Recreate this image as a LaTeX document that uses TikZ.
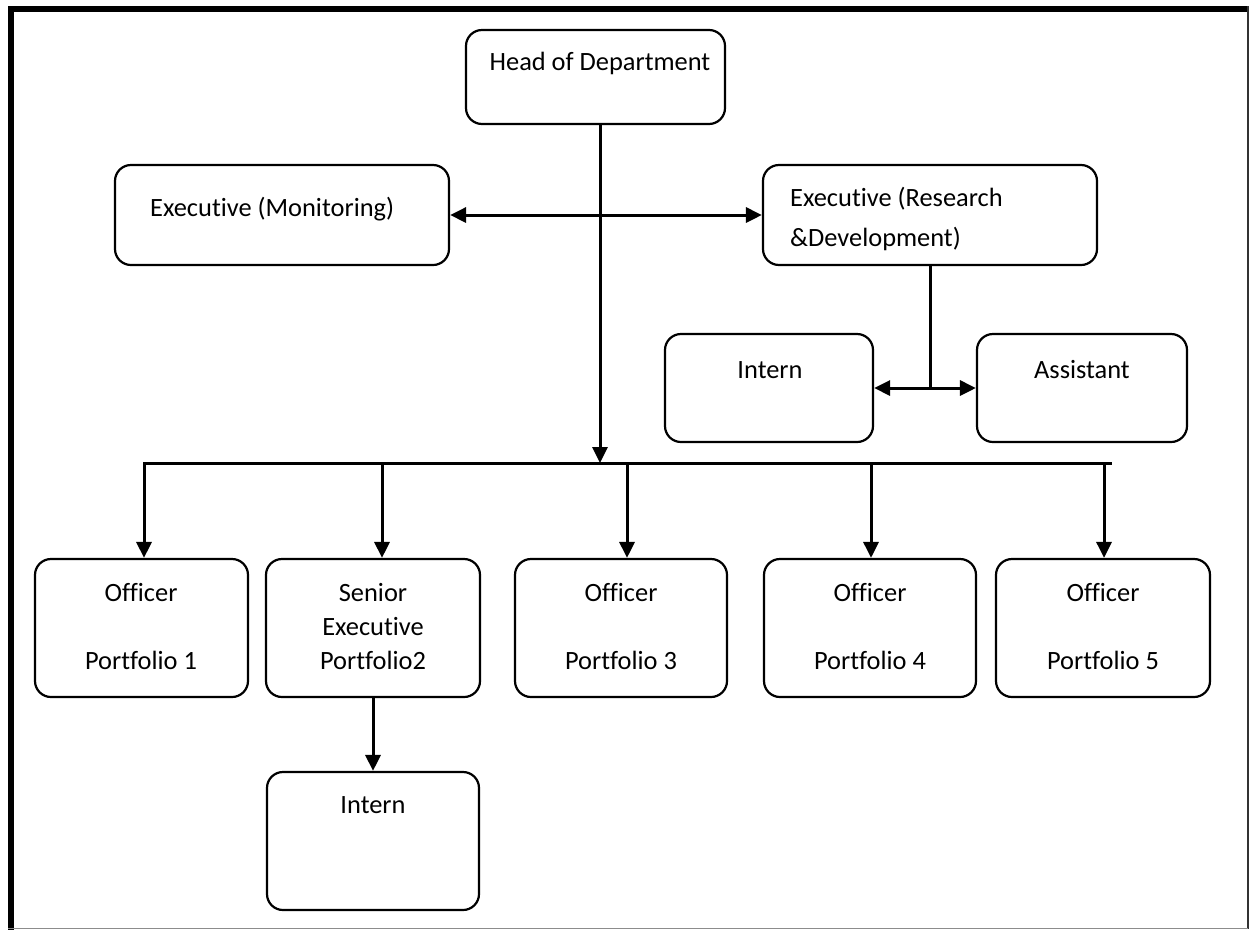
\documentclass[tikz,border=0pt]{standalone}
\usepackage{fontspec}
\setmainfont[Ligatures={NoCommon,NoRequired,NoContextual}]{Carlito}
\usetikzlibrary{arrows.meta}
\begin{document}
\begin{tikzpicture}[x=1pt,y=-1pt,
  box/.style={draw,line width=2.2pt,rounded corners=16pt,inner sep=0pt},
  txt/.style={anchor=base,inner sep=0pt,font=\fontsize{26.4}{31}\selectfont},
  link/.style={line width=3pt},
  tip/.style={-{Triangle[length=16pt,width=15pt]}},
  twoway/.style={{Triangle[length=16pt,width=15pt]}-{Triangle[length=16pt,width=15pt]}}]
\useasboundingbox (0,0) rectangle (1250,930);

% page frame
\fill (8,6) rectangle (1248,12);
\fill (8,6) rectangle (14,930);
\draw[line width=2pt,black!80] (1248,6) -- (1248,929);
\draw[line width=1.5pt,black!45] (8,928.5) -- (1248,928.5);

% boxes
\node[box,minimum width=259pt,minimum height=94pt] (head) at (595.5,77) {};
\node[box,minimum width=334pt,minimum height=100pt] (em) at (282,215) {};
\node[box,minimum width=334pt,minimum height=100pt] (erd) at (930,215) {};
\node[box,minimum width=208pt,minimum height=108pt] (intR) at (769,388) {};
\node[box,minimum width=210pt,minimum height=108pt] (asst) at (1082,388) {};
\node[box,minimum width=213pt,minimum height=138pt] (o1) at (141.5,628) {};
\node[box,minimum width=214pt,minimum height=138pt] (o2) at (373,628) {};
\node[box,minimum width=212pt,minimum height=138pt] (o3) at (621,628) {};
\node[box,minimum width=212pt,minimum height=138pt] (o4) at (870,628) {};
\node[box,minimum width=214pt,minimum height=138pt] (o5) at (1103,628) {};
\node[box,minimum width=212pt,minimum height=138pt] (intB) at (373,841) {};

% labels
\node[txt] (tHead) at (600,70) {Head of Department};
\node[txt,anchor=base west] (tEm) at (150,216) {Executive (Monitoring)};
\node[txt,anchor=base west] (tErd1) at (790,206) {Executive (Research};
\node[txt,anchor=base west] (tErd2) at (790,246) {\&Development)};
\node[txt] (tIntR) at (770,378) {Intern};
\node[txt] (tAsst) at (1082,378) {Assistant};
\node[txt] (tO1a) at (141,601) {Officer};
\node[txt] (tO1b) at (141,669) {Portfolio 1};
\node[txt] (tO2a) at (373,601) {Senior};
\node[txt] (tO2b) at (373,635) {Executive};
\node[txt] (tO2c) at (373,669) {Portfolio2};
\node[txt] (tO3a) at (621,601) {Officer};
\node[txt] (tO3b) at (621,669) {Portfolio 3};
\node[txt] (tO4a) at (870,601) {Officer};
\node[txt] (tO4b) at (870,669) {Portfolio 4};
\node[txt] (tO5a) at (1103,601) {Officer};
\node[txt] (tO5b) at (1103,669) {Portfolio 5};
\node[txt] (tIntB) at (373,813) {Intern};

% junction points
\coordinate (hv) at (600,463);
\coordinate (b1) at (144,463);
\coordinate (b2) at (382,463);
\coordinate (b3) at (627,463);
\coordinate (b4) at (871,463);
\coordinate (b5) at (1104,463);
\coordinate (bend) at (1110,463);
\coordinate (rj) at (930,388);

% connectors
\draw[link,tip] (head.south -| hv) -- (hv);
\draw[link,line cap=rect] (b1) -- (bend);
\draw[link,tip] (b1) -- (o1.north -| b1);
\draw[link,tip] (b2) -- (o2.north -| b2);
\draw[link,tip] (b3) -- (o3.north -| b3);
\draw[link,tip] (b4) -- (o4.north -| b4);
\draw[link,tip] (b5) -- (o5.north -| b5);
\draw[link,twoway] (em.east) -- (erd.west);
\draw[link] (erd.south) -- (rj);
\draw[link,twoway] (intR.east) -- (asst.west);
\draw[link,tip] (o2.south) -- (intB.north);
\end{tikzpicture}
\end{document}
